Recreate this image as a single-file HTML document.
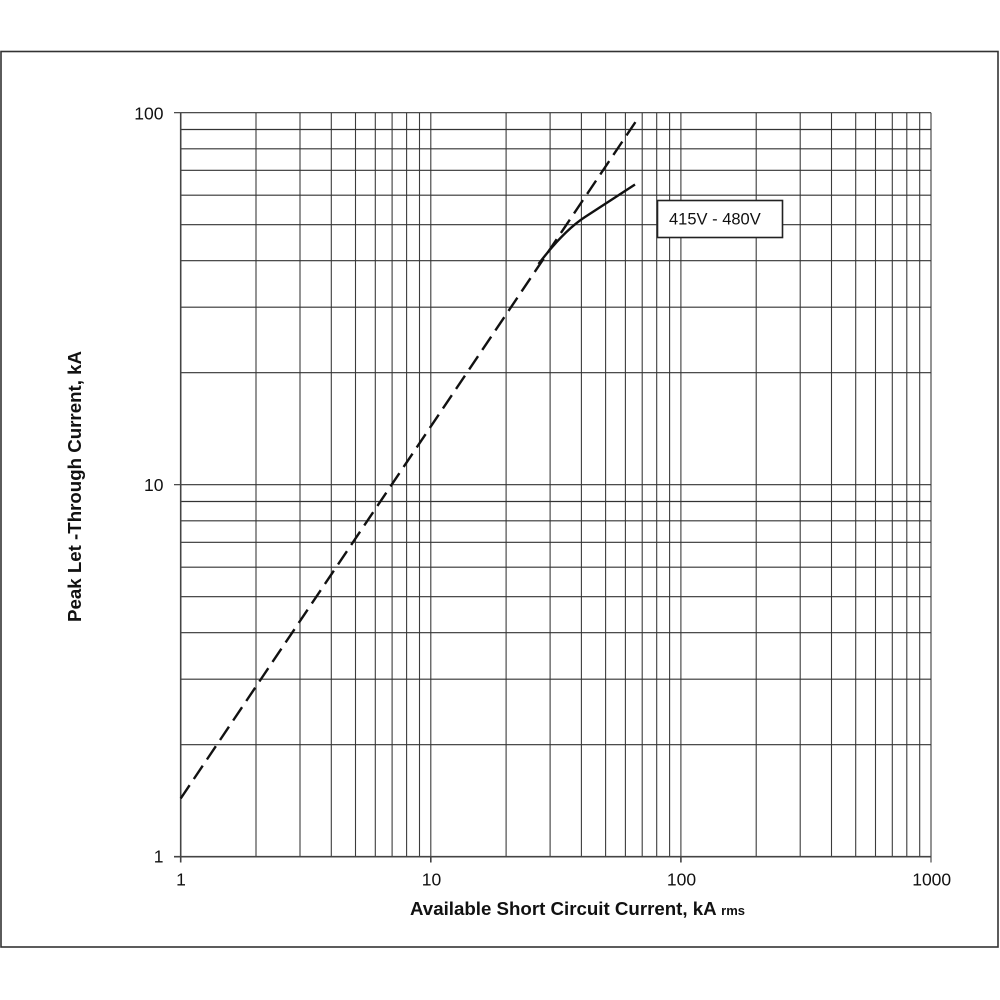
<!DOCTYPE html>
<html>
<head>
<meta charset="utf-8">
<style>
html,body{margin:0;padding:0;background:#fff;}
svg{display:block;}
</style>
</head>
<body>
<svg width="1000" height="1000" viewBox="0 0 1000 1000" xmlns="http://www.w3.org/2000/svg">
<rect x="0" y="0" width="1000" height="1000" fill="#fff"/>
<!-- outer border -->
<rect x="1" y="51.5" width="997" height="895.5" fill="none" stroke="#333" stroke-width="1.6"/>

<!-- vertical grid -->
<g stroke="#3c3c3c" stroke-width="1.1">
<line x1="256" y1="112.7" x2="256" y2="856.7"/>
<line x1="300" y1="112.7" x2="300" y2="856.7"/>
<line x1="331.3" y1="112.7" x2="331.3" y2="856.7"/>
<line x1="355.5" y1="112.7" x2="355.5" y2="856.7"/>
<line x1="375.3" y1="112.7" x2="375.3" y2="856.7"/>
<line x1="392.1" y1="112.7" x2="392.1" y2="856.7"/>
<line x1="406.6" y1="112.7" x2="406.6" y2="856.7"/>
<line x1="419.5" y1="112.7" x2="419.5" y2="856.7"/>
<line x1="430.8" y1="112.7" x2="430.8" y2="856.7"/>
<line x1="506.1" y1="112.7" x2="506.1" y2="856.7"/>
<line x1="550.1" y1="112.7" x2="550.1" y2="856.7"/>
<line x1="581.4" y1="112.7" x2="581.4" y2="856.7"/>
<line x1="605.6" y1="112.7" x2="605.6" y2="856.7"/>
<line x1="625.4" y1="112.7" x2="625.4" y2="856.7"/>
<line x1="642.2" y1="112.7" x2="642.2" y2="856.7"/>
<line x1="656.7" y1="112.7" x2="656.7" y2="856.7"/>
<line x1="669.6" y1="112.7" x2="669.6" y2="856.7"/>
<line x1="680.9" y1="112.7" x2="680.9" y2="856.7"/>
<line x1="756.2" y1="112.7" x2="756.2" y2="856.7"/>
<line x1="800.2" y1="112.7" x2="800.2" y2="856.7"/>
<line x1="831.5" y1="112.7" x2="831.5" y2="856.7"/>
<line x1="855.7" y1="112.7" x2="855.7" y2="856.7"/>
<line x1="875.5" y1="112.7" x2="875.5" y2="856.7"/>
<line x1="892.3" y1="112.7" x2="892.3" y2="856.7"/>
<line x1="906.8" y1="112.7" x2="906.8" y2="856.7"/>
<line x1="919.7" y1="112.7" x2="919.7" y2="856.7"/>
<line x1="931" y1="112.7" x2="931" y2="862.5"/>
</g>
<!-- horizontal grid -->
<g stroke="#333" stroke-width="1.2">
<line x1="180.7" y1="744.7" x2="931" y2="744.7"/>
<line x1="180.7" y1="679.2" x2="931" y2="679.2"/>
<line x1="180.7" y1="632.7" x2="931" y2="632.7"/>
<line x1="180.7" y1="596.7" x2="931" y2="596.7"/>
<line x1="180.7" y1="567.2" x2="931" y2="567.2"/>
<line x1="180.7" y1="542.3" x2="931" y2="542.3"/>
<line x1="180.7" y1="520.8" x2="931" y2="520.8"/>
<line x1="180.7" y1="501.5" x2="931" y2="501.5"/>
<line x1="174" y1="484.7" x2="931" y2="484.7"/>
<line x1="180.7" y1="372.7" x2="931" y2="372.7"/>
<line x1="180.7" y1="307.2" x2="931" y2="307.2"/>
<line x1="180.7" y1="260.7" x2="931" y2="260.7"/>
<line x1="180.7" y1="224.7" x2="931" y2="224.7"/>
<line x1="180.7" y1="195.2" x2="931" y2="195.2"/>
<line x1="180.7" y1="170.3" x2="931" y2="170.3"/>
<line x1="180.7" y1="148.8" x2="931" y2="148.8"/>
<line x1="180.7" y1="129.5" x2="931" y2="129.5"/>
<line x1="174" y1="112.7" x2="931" y2="112.7"/>
</g>
<!-- axes -->
<g stroke="#444" stroke-width="1.6">
<line x1="180.7" y1="112.7" x2="180.7" y2="862.5"/>
<line x1="174" y1="856.7" x2="931" y2="856.7"/>
<line x1="430.8" y1="856.7" x2="430.8" y2="862.5"/>
<line x1="680.9" y1="856.7" x2="680.9" y2="862.5"/>
</g>

<!-- dashed reference line -->
<line x1="180.7" y1="798.5" x2="637.5" y2="119" stroke="#111" stroke-width="2.4" stroke-dasharray="16 7.5" fill="none"/>
<!-- solid curve -->
<path d="M538.5,264 Q564,230.5 585,217 L635,184.5" stroke="#111" stroke-width="2.4" fill="none" stroke-linejoin="round"/>

<!-- label box -->
<rect x="657.5" y="200.5" width="125" height="37" fill="#fff" stroke="#222" stroke-width="1.6"/>
<text x="669" y="224.5" font-family="'Liberation Sans', sans-serif" font-size="16.5" fill="#111">415V - 480V</text>

<!-- y tick labels -->
<g font-family="'Liberation Sans', sans-serif" font-size="17.5" fill="#111" text-anchor="end">
<text x="163.5" y="119.3">100</text>
<text x="163.5" y="491">10</text>
<text x="163.5" y="862.7">1</text>
</g>
<!-- x tick labels -->
<g font-family="'Liberation Sans', sans-serif" font-size="17.5" fill="#111" text-anchor="middle">
<text x="181" y="885.5">1</text>
<text x="431.5" y="885.5">10</text>
<text x="681.5" y="885.5">100</text>
<text x="931.7" y="885.5">1000</text>
</g>

<!-- axis titles -->
<text x="410" y="915" font-family="'Liberation Sans', sans-serif" font-size="18.7" font-weight="bold" fill="#111">Available Short Circuit Current, kA <tspan font-size="13">rms</tspan></text>
<text transform="translate(81,486.5) rotate(-90)" text-anchor="middle" font-family="'Liberation Sans', sans-serif" font-size="18.7" font-weight="bold" fill="#111">Peak Let -Through Current, kA</text>
</svg>
</body>
</html>
